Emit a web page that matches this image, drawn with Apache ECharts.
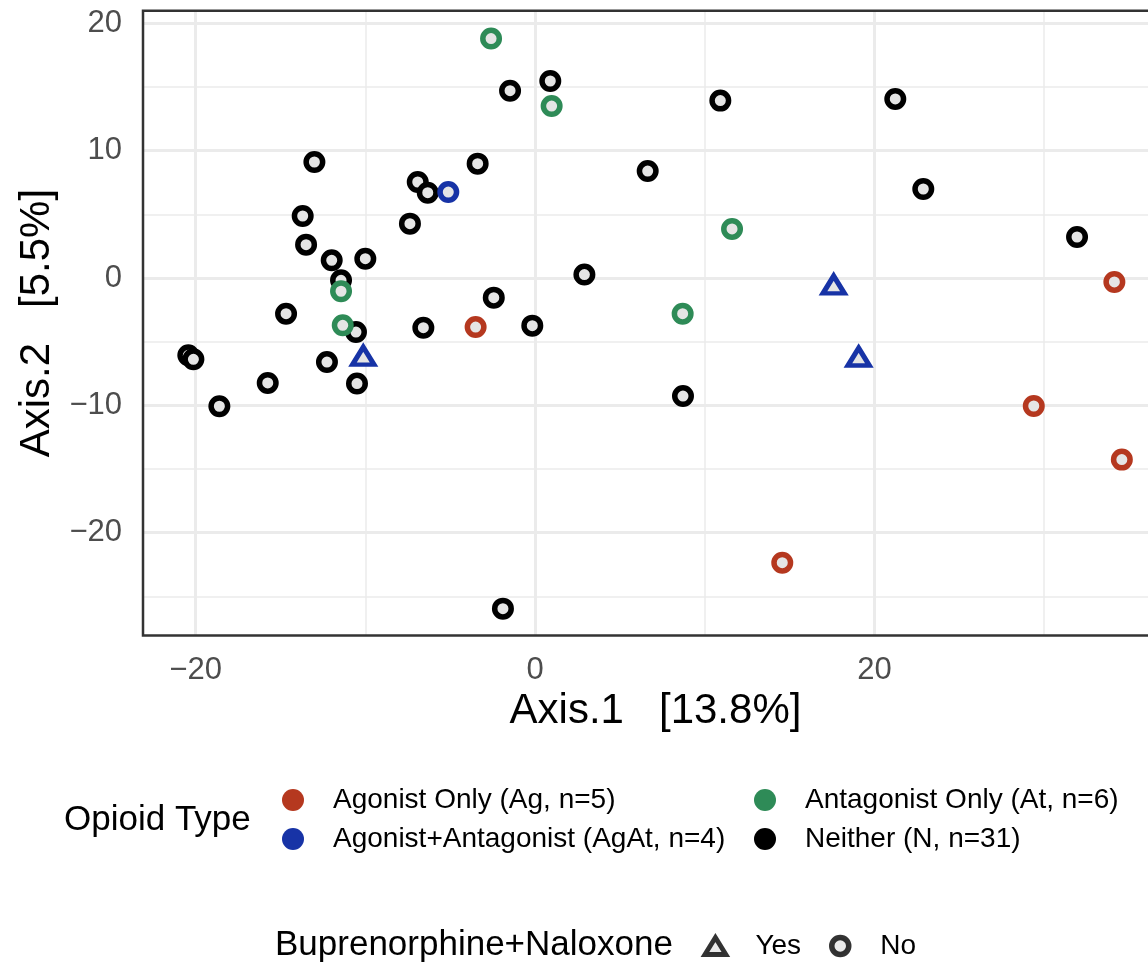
<!DOCTYPE html>
<html><head><meta charset="utf-8">
<script src="https://cdn.jsdelivr.net/npm/echarts@6/dist/echarts.min.js"></script>
<style>html,body{margin:0;padding:0;background:#fff}#c{width:1148px;height:965px}</style>
</head><body><div id="c"></div>
<script>
// ---------- data ----------
const agonistX   = [-3.50, 34.14, 29.39, 34.58, 14.57];
const agonistY   = [-3.85, -0.31, -10.05, -14.26, -22.35];
const agonistBup = ['No', 'No', 'No', 'No', 'No'];

const agAtX   = [-5.11, -10.12, 17.60, 19.07];
const agAtY   = [6.75, -6.34, -0.75, -6.41];
const agAtBup = ['No', 'Yes', 'Yes', 'Yes'];

const antX   = [-2.59, 0.98, 11.61, -11.43, -11.33, 8.70];
const antY   = [18.80, 13.50, 3.85, -1.04, -3.71, -2.80];
const antBup = ['No', 'No', 'No', 'No', 'No', 'No'];

const neitherX = [-13.00, -13.69, -13.49, -11.98, -10.00, -11.43, -14.67, -10.55, -20.43, -20.13,
                  -12.26, -15.75, -10.49, -18.60, 0.90, -1.47, 10.92, -3.38, -6.91, -6.32,
                  6.64, -7.37, 2.91, -2.43, -6.58, -0.16, 8.72, -1.89, 21.23, 22.88, 31.94];
const neitherY = [9.11, 4.87, 2.62, 1.39, 1.52, -0.18, -2.80, -4.24, -6.07, -6.38,
                  -6.60, -8.24, -8.29, -10.07, 15.47, 14.71, 13.93, 8.98, 7.54, 6.70,
                  8.40, 4.27, 0.27, -1.54, -3.90, -3.74, -9.27, -25.96, 14.06, 6.99, 3.22];
const neitherBup = neitherX.map(() => 'No');

const groupNames = ['Agonist Only (Ag, n=5)', 'Agonist+Antagonist (AgAt, n=4)',
                    'Antagonist Only (At, n=6)', 'Neither (N, n=31)'];
const bupNames = ['Yes', 'No'];

const xMajor = [-20, 0, 20];
const xMinor = [-10, 10, 30];
const yMajor = [-20, -10, 0, 10, 20];
const yMinor = [-25, -15, -5, 5, 15];

// ---------- styles ----------
const FONT = 'Liberation Sans, Arial, Helvetica, sans-serif';
const COLORS = {
  'Agonist Only (Ag, n=5)': '#B5381F',
  'Agonist+Antagonist (AgAt, n=4)': '#1733A6',
  'Antagonist Only (At, n=6)': '#2E8B57',
  'Neither (N, n=31)': '#000000'
};
const FILL = '#E5E5E5';
const GRID = '#EBEBEB';

function makeData(xs, ys, bup) {
  return xs.map((x, i) => {
    const tri = bup[i] === 'Yes';
    return {
      value: [x, ys[i]],
      symbol: tri ? 'triangle' : 'circle',
      symbolSize: tri ? [21.5, 17.5] : 16.5,
      symbolOffset: tri ? [0, -2.9] : [0, 0],
      itemStyle: { borderWidth: tri ? 4.8 : 5.5 }
    };
  });
}

function scatter(name, xs, ys, bup, extra) {
  return Object.assign({
    type: 'scatter', name: name,
    data: makeData(xs, ys, bup),
    itemStyle: { color: FILL, borderColor: COLORS[name], borderJoin: 'miter', opacity: 1 },
    emphasis: { disabled: true },
    silent: true,
    z: 2
  }, extra || {});
}

const gridLines = []
  .concat(xMajor.map(v => ({ xAxis: v, lineStyle: { color: GRID, width: 3, type: 'solid' } })))
  .concat(xMinor.map(v => ({ xAxis: v, lineStyle: { color: GRID, width: 1.5, type: 'solid' } })))
  .concat(yMajor.map(v => ({ yAxis: v, lineStyle: { color: GRID, width: 3, type: 'solid' } })))
  .concat(yMinor.map(v => ({ yAxis: v, lineStyle: { color: GRID, width: 1.5, type: 'solid' } })));

const minus = v => String(v).replace('-', '\u2212');

const legendText = { fontSize: 28, lineHeight: 22, color: '#000', fontFamily: FONT };

const option = {
  animation: false,
  backgroundColor: '#ffffff',
  textStyle: { fontFamily: FONT },
  grid: {
    left: 143, top: 10.7, right: -20, bottom: 329.5,
    show: true, backgroundColor: 'transparent',
    borderColor: '#333333', borderWidth: 2.5,
    containLabel: false, outerBoundsMode: 'none', z: 3
  },
  xAxis: {
    type: 'value', min: -23.1, max: 37.3,
    name: 'Axis.1   [13.8%]', nameLocation: 'middle', nameGap: 54,
    nameTextStyle: { fontSize: 42, color: '#000', fontFamily: FONT },
    axisLine: { show: false },
    axisTick: { show: true, customValues: xMajor, length: 10, lineStyle: { color: '#333', width: 2.5 } },
    axisLabel: { customValues: xMajor, fontSize: 31, color: '#4D4D4D', margin: 19, fontFamily: FONT, formatter: minus },
    splitLine: { show: false }
  },
  yAxis: {
    type: 'value', min: -28.07, max: 20.99,
    name: 'Axis.2   [5.5%]', nameLocation: 'middle', nameGap: 82,
    nameTextStyle: { fontSize: 42, color: '#000', fontFamily: FONT },
    axisLine: { show: false },
    axisTick: { show: true, customValues: yMajor, length: 10, lineStyle: { color: '#333', width: 2.5 } },
    axisLabel: { customValues: yMajor, fontSize: 31, color: '#4D4D4D', margin: 21, fontFamily: FONT, formatter: minus },
    splitLine: { show: false }
  },
  legend: [
    {
      data: [
        { name: groupNames[0], icon: 'circle', itemStyle: { color: COLORS[groupNames[0]], borderWidth: 0 } },
        { name: groupNames[1], icon: 'circle', itemStyle: { color: COLORS[groupNames[1]], borderWidth: 0 } }
      ],
      orient: 'vertical', left: 282, top: 786, padding: 0,
      itemWidth: 70, itemHeight: 22, itemGap: 11, selectedMode: false,
      textStyle: legendText
    },
    {
      data: [
        { name: groupNames[2], icon: 'circle', itemStyle: { color: COLORS[groupNames[2]], borderWidth: 0 } },
        { name: groupNames[3], icon: 'circle', itemStyle: { color: COLORS[groupNames[3]], borderWidth: 0 } }
      ],
      orient: 'vertical', left: 754, top: 786, padding: 0,
      itemWidth: 70, itemHeight: 22, itemGap: 11, selectedMode: false,
      textStyle: legendText
    },
    {
      data: [
        { name: bupNames[0], icon: 'path://M0,0M70,17M35,0L45.5,17L24.5,17Z',
          itemStyle: { color: FILL, borderColor: '#000', borderWidth: 4.8, borderJoin: 'miter' } }
      ],
      orient: 'horizontal', left: 678, top: 932, padding: 0,
      itemWidth: 70, itemHeight: 17, selectedMode: false,
      textStyle: legendText
    },
    {
      data: [
        { name: bupNames[1], icon: 'circle',
          itemStyle: { color: FILL, borderColor: '#000', borderWidth: 5.5 } }
      ],
      orient: 'horizontal', left: 829, top: 932, padding: 0,
      itemWidth: 70, itemHeight: 17, selectedMode: false,
      textStyle: legendText
    }
  ],
  graphic: [
    { type: 'text', x: 64, y: 820, style: { text: 'Opioid Type', fontSize: 35, fontFamily: FONT, fill: '#000', verticalAlign: 'middle' } },
    { type: 'text', x: 275, y: 945, style: { text: 'Buprenorphine+Naloxone', fontSize: 35, fontFamily: FONT, fill: '#000', verticalAlign: 'middle' } }
  ],
  series: [
    scatter(groupNames[3], neitherX, neitherY, neitherBup, {
      markLine: {
        silent: true, z: 1, symbol: ['none', 'none'], label: { show: false },
        emphasis: { disabled: true }, animation: false,
        data: gridLines
      }
    }),
    scatter(groupNames[0], agonistX, agonistY, agonistBup),
    scatter(groupNames[1], agAtX, agAtY, agAtBup),
    scatter(groupNames[2], antX, antY, antBup),
    { type: 'scatter', name: bupNames[0], data: [], itemStyle: { color: FILL, borderColor: '#000' } },
    { type: 'scatter', name: bupNames[1], data: [], itemStyle: { color: FILL, borderColor: '#000' } }
  ]
};

const chart = echarts.init(document.getElementById('c'), null, { renderer: 'canvas' });
chart.setOption(option);
</script>
</body></html>
